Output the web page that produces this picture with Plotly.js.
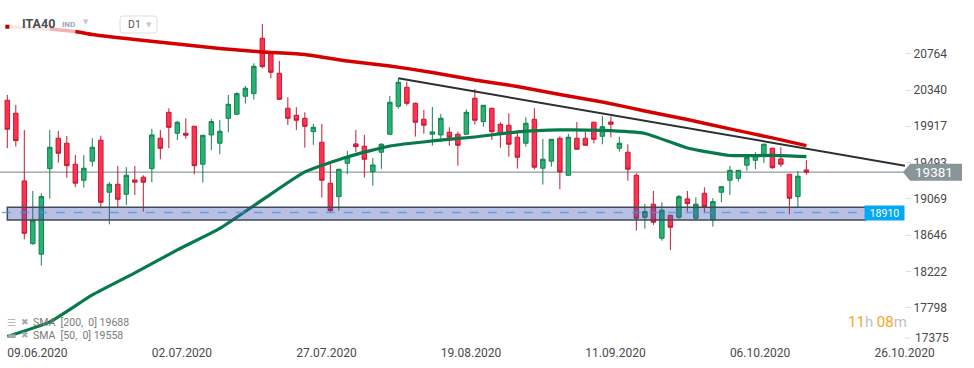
<!DOCTYPE html>
<html>
<head>
<meta charset="utf-8">
<script src="https://cdn.plot.ly/plotly-3.0.1.min.js"></script>
<style>html,body{margin:0;padding:0;background:#fff;}#chart{width:974px;height:368px;}</style>
</head>
<body>
<div id="chart"></div>
<script>
// ---- data ----
const dates = [
 "09.06.2020","10.06.2020","11.06.2020","12.06.2020","15.06.2020","16.06.2020","17.06.2020","18.06.2020","19.06.2020",
 "22.06.2020","23.06.2020","24.06.2020","25.06.2020","26.06.2020","29.06.2020","30.06.2020",
 "01.07.2020","02.07.2020","03.07.2020","06.07.2020","07.07.2020","08.07.2020","09.07.2020","10.07.2020",
 "13.07.2020","14.07.2020","15.07.2020","16.07.2020","17.07.2020","20.07.2020","21.07.2020","22.07.2020","23.07.2020","24.07.2020",
 "27.07.2020","28.07.2020","29.07.2020","30.07.2020","31.07.2020",
 "03.08.2020","04.08.2020","05.08.2020","06.08.2020","07.08.2020","10.08.2020","11.08.2020","12.08.2020","13.08.2020","14.08.2020",
 "17.08.2020","18.08.2020","19.08.2020","20.08.2020","21.08.2020","24.08.2020","25.08.2020","26.08.2020","27.08.2020","28.08.2020","31.08.2020",
 "01.09.2020","02.09.2020","03.09.2020","04.09.2020","07.09.2020","08.09.2020","09.09.2020","10.09.2020","11.09.2020",
 "14.09.2020","15.09.2020","16.09.2020","17.09.2020","18.09.2020","21.09.2020","22.09.2020","23.09.2020","24.09.2020","25.09.2020",
 "28.09.2020","29.09.2020","30.09.2020","01.10.2020","02.10.2020","05.10.2020","06.10.2020","07.10.2020","08.10.2020","09.10.2020",
 "12.10.2020","13.10.2020","14.10.2020","15.10.2020","16.10.2020","19.10.2020"
];
const openV  = [20220,20069,19279,18547,18423,19422,19777,19719,19474,19287,19509,19754,19147,19240,19123,19290,19322,19422,19777,20080,
 19835,19835,19917,19474,19816,19719,20010,20057,20267,20298,20944,20769,20536,20127,20045,20010,19854,19730,19252,19096,
 19485,19711,19684,19387,19614,19824,20150,20372,20185,19999,19824,19816,19847,19824,19824,20244,19971,20127,19940,19929,
 19789,19719,19999,19427,19509,19777,19345,19777,19777,19964,19800,19967,19660,19614,19345,18855,19007,18610,18878,18855,
 19069,18843,19135,18824,19147,19287,19310,19462,19520,19590,19660,19535,19357,19096,19407];
const highV  = [20282,20166,19874,19162,19135,19874,19862,19804,19582,19582,19777,19807,19264,19454,19439,19454,19345,19886,19874,20127,
 19979,20010,19921,19816,20002,19991,20282,20314,20387,20652,21111,20788,20679,20256,20139,20080,19944,19944,19474,19419,
 19629,19874,19816,19544,19719,20271,20477,20438,20195,20107,20142,20061,19905,19854,20115,20352,20166,20135,19964,20069,
 19847,20022,20127,19769,19765,19800,19827,19967,19854,19970,20037,20030,19796,19707,19369,19010,19162,19030,18882,19115,
 19162,19088,19205,19077,19212,19454,19403,19590,19614,19714,19667,19672,19357,19395,19520];
const lowV   = [19660,19679,18598,18532,18290,19072,19492,19317,19205,19201,19446,18960,18773,18967,18999,19115,18920,19264,19532,19660,
 19757,19772,19357,19259,19641,19590,19847,20049,20181,20228,20594,20477,20225,19932,19874,19667,19699,19084,18913,18932,
 19357,19614,19317,19224,19419,19815,20123,20158,19796,19831,19691,19737,19691,19457,19815,19936,19912,19757,19667,19562,
 19422,19679,19411,19236,19446,19182,19340,19645,19690,19719,19707,19789,19621,19282,18699,18722,18765,18582,18473,18835,
 18921,18824,18909,18745,19030,19115,19271,19399,19415,19489,19419,19442,18890,18972,19352];
const closeV = [19882,19749,18668,18820,19096,19672,19602,19457,19252,19427,19672,19030,19240,19065,19345,19264,19264,19816,19660,19905,
 19964,19812,19457,19812,19971,19859,20174,20298,20361,20617,20613,20547,20232,20010,19987,19917,19905,19287,18932,19415,
 19562,19679,19532,19465,19707,20197,20431,20185,19964,19929,19851,20010,19789,19695,20080,19987,20162,19854,19827,19707,
 19555,19952,19439,19532,19765,19384,19789,19649,19695,19765,19912,19940,19719,19415,18843,18921,18797,18937,18738,19096,
 19014,19007,18979,19037,19212,19403,19403,19551,19574,19707,19434,19474,19077,19334,19381];

const sma200Idx = [0,5,8,10,15,20,25,30,35,40,45,50,55,60,65,70,75,80,85,90,94];
const sma200    = [21079,21053,21023,20988,20930,20878,20825,20784,20755,20679,20621,20545,20457,20382,20288,20201,20096,19996,19886,19781,19691];
const sma50Idx  = [0,5,10,15,20,25,30,35,40,45,50,55,60,65,70,75,80,85,90,94];
const sma50     = [17462,17633,17948,18205,18473,18724,19057,19384,19559,19687,19746,19792,19851,19874,19868,19833,19664,19576,19576,19562];

const trendIdx = [46, 105.6];
const trendVal = [20477, 19457];

const lastPrice = 19381;
const supportLevel = 18910;
const zoneLow = 18824, zoneHigh = 18972, zoneEndIdx = 101;

const xTickIdx  = [0,17,34,51,68,85,102];
const xTickText = ["09.06.2020","02.07.2020","27.07.2020","19.08.2020","11.09.2020","06.10.2020","26.10.2020"];
const yTicks = [17798,18222,18646,19069,19493,19917,20340,20764];
const yBottomTick = 17375;   // drawn lifted inside the plot, as in the reference

// ---- chart ----
const idx = dates.map((d, i) => i);
const FONT = "Roboto, 'Open Sans', sans-serif";
const PW = 905, PH = 344;          // plot area in px
const px = v => v / PW;             // px -> paper x
const py = v => 1 - v / PH;         // px -> paper y

function sub(arrX, arrY, a, b) { return {x: arrX.slice(a, b), y: arrY.slice(a, b)}; }
const s200a = sub(sma200Idx, sma200, 0, 2), s200b = sub(sma200Idx, sma200, 1, 3), s200c = sub(sma200Idx, sma200, 2, sma200Idx.length);

const traces = [
  {type:'scatter', mode:'lines', x:s200a.x, y:s200a.y, line:{color:'rgba(213,0,0,0.10)', width:3.5}, hoverinfo:'skip'},
  {type:'scatter', mode:'lines', x:s200b.x, y:s200b.y, line:{color:'rgba(213,0,0,0.30)', width:3.5}, hoverinfo:'skip'},
  {type:'scatter', mode:'lines', x:s200c.x, y:s200c.y, line:{color:'#d50000', width:3.5, shape:'spline', smoothing:0.5}, hoverinfo:'skip'},
  {type:'scatter', mode:'markers', x:[sma200Idx[0]], y:[sma200[0]], marker:{color:'#c00000', size:4, symbol:'square'}, hoverinfo:'skip'},
  {type:'scatter', mode:'lines', x:sma50Idx, y:sma50, line:{color:'#077a4c', width:3.2, shape:'spline', smoothing:0.5}, hoverinfo:'skip'},
  {type:'scatter', mode:'lines', x:trendIdx, y:trendVal, line:{color:'#2b2f33', width:2}, hoverinfo:'skip'},
  {type:'candlestick', x:idx, open:openV, high:highV, low:lowV, close:closeV, text:dates,
   increasing:{line:{color:'#15804f', width:1}, fillcolor:'#26b474'},
   decreasing:{line:{color:'#c41a33', width:1}, fillcolor:'#ff3350'},
   whiskerwidth:0}
];

const shapes = [
  {type:'line', xref:'paper', x0:0, x1:1, yref:'y', y0:lastPrice, y1:lastPrice, line:{color:'#8e9aa1', width:1.3}, layer:'below'},
  {type:'rect', xref:'x', x0:0, x1:zoneEndIdx, yref:'y', y0:zoneLow, y1:zoneHigh,
   fillcolor:'rgba(63,81,181,0.36)', line:{color:'#3f4a5a', width:1.5}, layer:'above'},
  {type:'line', xref:'paper', x0:0.002, x1:px(866), yref:'y', y0:supportLevel, y1:supportLevel,
   line:{color:'rgba(66,150,230,0.75)', width:1.5, dash:'dash'}, layer:'above'},
  {type:'path', xref:'paper', yref:'y', xsizemode:'pixel', ysizemode:'pixel', xanchor:1, yanchor:lastPrice,
   path:'M -2,0 L 5,8.5 L 57,8.5 L 57,-8.5 L 5,-8.5 Z', fillcolor:'#8a959b', line:{width:0}, layer:'above'},
  {type:'line', xref:'paper', yref:'paper', x0:1, x1:px(910), y0:py(338), y1:py(338), line:{color:'#dddddd', width:1}, layer:'above'},
  {type:'path', xref:'paper', yref:'paper', path:`M ${px(123)},${py(16)} L ${px(154)},${py(16)} Q ${px(157)},${py(16)} ${px(157)},${py(19)} L ${px(157)},${py(30)} Q ${px(157)},${py(33)} ${px(154)},${py(33)} L ${px(123)},${py(33)} Q ${px(120)},${py(33)} ${px(120)},${py(30)} L ${px(120)},${py(19)} Q ${px(120)},${py(16)} ${px(123)},${py(16)} Z`,
   fillcolor:'#ffffff', line:{color:'#dcdcdc', width:1}, layer:'above'}
];

const ann = (x, y, text, opts) => Object.assign({xref:'paper', yref:'paper', x:px(x), y:py(y), text, showarrow:false,
  xanchor:'left', yanchor:'middle', font:{family:FONT, size:11, color:'#666'}}, opts || {});

const annotations = [
  ann(20, 23, '<b>ITA40</b>', {font:{family:FONT, size:12.5, color:'#4d4d4d'}}),
  ann(60, 24, '<b>IND</b>', {font:{family:FONT, size:8, color:'#9aa6b2'}}),
  ann(81, 22, '▼', {font:{family:'DejaVu Sans', size:7, color:'#c4c9ce'}}),
  ann(126, 24.5, 'D1', {font:{family:FONT, size:10.5, color:'#555'}}),
  ann(144, 25, '▼', {font:{family:'DejaVu Sans', size:7, color:'#c4c9ce'}}),
  ann(5, 322, '☰', {font:{family:'DejaVu Sans', size:10, color:'#b8b8b8'}}),
  ann(19, 322, '✖', {font:{family:'DejaVu Sans', size:9, color:'#a8a8a8'}}),
  ann(31, 322, 'SMA  [200,  0] 19688', {font:{family:FONT, size:10.5, color:'#7a7a7a'}}),
  ann(5, 335, '▬', {font:{family:'DejaVu Sans', size:10, color:'#a8a8a8'}}),
  ann(19, 335, '✖', {font:{family:'DejaVu Sans', size:9, color:'#a8a8a8'}}),
  ann(31, 335, 'SMA  [50,  0] 19558', {font:{family:FONT, size:10.5, color:'#7a7a7a'}}),
  ann(846, 322, '<span style="color:#f7a41c">11</span><span style="color:#c2c2c2">h </span><span style="color:#f7a41c">08</span><span style="color:#c2c2c2">m</span>',
      {font:{family:FONT, size:15, color:'#f7a41c'}}),
  ann(913, 338, String(yBottomTick), {font:{family:FONT, size:12, color:'#4a4a4a'}}),
  {xref:'paper', yref:'y', x:1, y:lastPrice, xanchor:'left', yanchor:'middle', xshift:8, showarrow:false,
   text:String(lastPrice), font:{family:FONT, size:13.5, color:'#ffffff'}},
  {xref:'paper', yref:'y', x:1, y:supportLevel, xanchor:'right', yanchor:'middle', showarrow:false,
   text:String(supportLevel), font:{family:FONT, size:10.5, color:'#ffffff'}, bgcolor:'#03a9f4', width:36, height:11, borderpad:1.5}
];

const layout = {
  width:974, height:368,
  margin:{l:0, r:974-PW, t:0, b:368-PH, pad:0},
  paper_bgcolor:'#ffffff', plot_bgcolor:'#ffffff',
  showlegend:false, boxgap:0.25, dragmode:false,
  font:{family:FONT, size:12, color:'#444'},
  xaxis:{type:'linear', range:[-0.86, 105.6], tickmode:'array', tickvals:xTickIdx, ticktext:xTickText,
         showgrid:false, zeroline:false, showline:false, ticks:'', ticklabelposition:'outside right',
         tickfont:{family:FONT, size:12, color:'#4a4a4a'}, rangeslider:{visible:false}, fixedrange:true},
  yaxis:{side:'right', range:[17375, 21391], tickmode:'array', tickvals:yTicks, ticktext:yTicks.map(String),
         showgrid:false, zeroline:false, showline:false, ticks:'outside', ticklen:5, tickcolor:'#dddddd',
         tickfont:{family:FONT, size:12, color:'#4a4a4a'}, fixedrange:true},
  shapes, annotations
};

Plotly.newPlot('chart', traces, layout, {displayModeBar:false, staticPlot:true});
</script>
</body>
</html>
